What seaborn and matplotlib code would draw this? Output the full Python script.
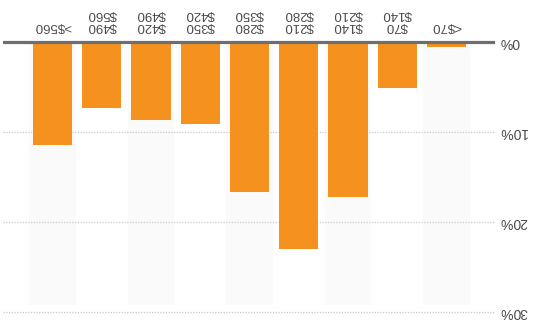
import matplotlib
matplotlib.use("Agg")
import matplotlib.pyplot as plt
import seaborn as sns
import pandas as pd

# Share of listings by nightly price band
price_bands = ["<$70", "$70\n$140", "$140\n$210", "$210\n$280", "$280\n$350",
               "$350\n$420", "$420\n$490", "$490\n$560", ">$560"]
share_pct = [0.55, 5.1, 17.2, 23.0, 16.7, 9.1, 8.7, 7.3, 11.4]
y_ticks = [0, 10, 20, 30]
y_tick_labels = ["0%", "10%", "20%", "30%"]

BAR = "#f5911e"
BAND = "#fafafa"
GRID = "#c8c8c8"
TEXT = "#4a4a4a"

sns.set_theme(style="white")
plt.rcParams["font.family"] = ["Liberation Sans", "DejaVu Sans"]

df = pd.DataFrame({"band": price_bands, "share": share_pct})

W, H = 541, 332
fig = plt.figure(figsize=(W / 100, H / 100), dpi=100)
left, right, top, bottom = 3, 495, 38, 320
ax = fig.add_axes([left / W, (H - bottom) / H, (right - left) / W, (bottom - top) / H])

# alternating light background bands behind every other bar
for i in range(0, len(price_bands), 2):
    ax.bar(i, 29.2, width=0.95, color=BAND, zorder=0, linewidth=0)

sns.barplot(data=df, x="band", y="share", order=price_bands, color=BAR,
            saturation=1, width=0.8, ax=ax, zorder=2, linewidth=0)

# dotted gridlines and a solid baseline at zero
for v in y_ticks[1:]:
    ax.axhline(v, color=GRID, lw=0.9, ls=(0, (1, 1.2)), zorder=1)
ax.axhline(0, color="#6e6e6e", lw=2.3, zorder=3)

# the whole chart is drawn turned half a turn
ax.set_xlim(9.005, -0.985)
ax.set_ylim((bottom - 42) / 9, (top - 42) / 9)

ax.xaxis.tick_top()
ax.set_xticks(range(len(price_bands)))
ax.set_xticklabels([b.replace("$", r"\$") for b in price_bands], rotation=180,
                   fontsize=9.5, color=TEXT, linespacing=1.05)
ax.tick_params(axis="x", length=0, pad=4)

ax.yaxis.tick_right()
ax.set_yticks(y_ticks)
ax.set_yticklabels(y_tick_labels, rotation=180, rotation_mode="anchor",
                   fontsize=10, color=TEXT, ha="right", va="center")
ax.tick_params(axis="y", length=0, pad=3)

ax.set_xlabel("")
ax.set_ylabel("")
ax.grid(False)
for s in ax.spines.values():
    s.set_visible(False)

fig.savefig("out.png", dpi=100, facecolor="white")
